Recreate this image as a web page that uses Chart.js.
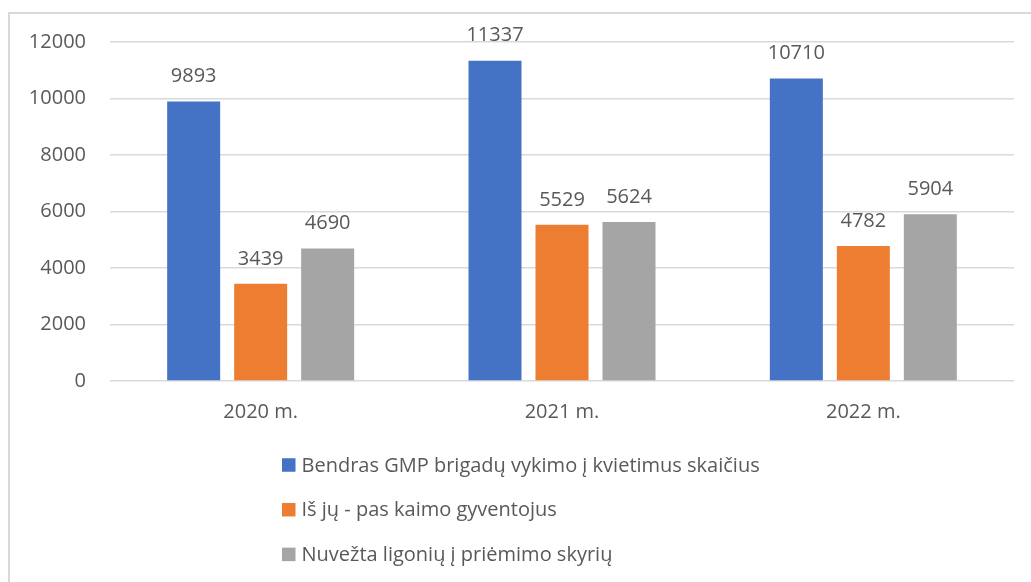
<!DOCTYPE html>
<html>
<head>
<meta charset="utf-8">
<script src="https://cdn.jsdelivr.net/npm/chart.js@4"></script>
<style>
  html, body { margin: 0; padding: 0; background: #ffffff; }
  #wrap { position: relative; width: 1031px; height: 582px; overflow: hidden; }
  #frame { position: absolute; left: 8px; top: 12px; width: 1100px; height: 700px;
           border-left: 2px solid #d9d9d9; border-top: 2px solid #d9d9d9; }
  canvas { position: absolute; left: 0; top: 0; }
</style>
</head>
<body>
<div id="wrap">
  <div id="frame"></div>
  <canvas id="c" width="1031" height="582"></canvas>
</div>
<script>
const categories = ["2020 m.", "2021 m.", "2022 m."];
const seriesNames = [
  "Bendras GMP brigadų vykimo į kvietimus skaičius",
  "Iš jų - pas kaimo gyventojus",
  "Nuvežta ligonių į priėmimo skyrių"
];
const totalCalls = [9893, 11337, 10710];
const ruralCalls = [3439, 5529, 4782];
const transported = [4690, 5624, 5904];
const yTicks = [0, 2000, 4000, 6000, 8000, 10000, 12000];
const seriesColors = ["#4472C4", "#ED7D31", "#A5A5A5"];

const FONT = "'Open Sans', 'DejaVu Sans', sans-serif";
const TEXT = "#595959";

const valueLabels = {
  id: "valueLabels",
  afterDatasetsDraw(chart) {
    const ctx = chart.ctx;
    ctx.save();
    ctx.font = "20px " + FONT;
    ctx.fillStyle = TEXT;
    ctx.textAlign = "center";
    ctx.textBaseline = "middle";
    chart.data.datasets.forEach((ds, i) => {
      const meta = chart.getDatasetMeta(i);
      meta.data.forEach((bar, j) => {
        ctx.fillText(String(ds.data[j]), bar.x, bar.y - 25);
      });
    });
    ctx.restore();
  }
};

const sideLegend = {
  id: "sideLegend",
  afterDraw(chart) {
    const ctx = chart.ctx;
    const area = chart.chartArea;
    ctx.save();
    ctx.font = "20px " + FONT;
    ctx.textAlign = "left";
    ctx.textBaseline = "middle";
    chart.data.datasets.forEach((ds, i) => {
      const cy = area.bottom + 84 + i * 44.7;
      ctx.fillStyle = ds.backgroundColor;
      ctx.fillRect(282, cy - 6.75, 13.5, 13.5);
      ctx.fillStyle = TEXT;
      ctx.fillText(ds.label, 301.5, cy + 1);
    });
    ctx.restore();
  }
};

new Chart(document.getElementById("c"), {
  type: "bar",
  data: {
    labels: categories,
    datasets: [
      { label: seriesNames[0], data: totalCalls, backgroundColor: seriesColors[0] },
      { label: seriesNames[1], data: ruralCalls, backgroundColor: seriesColors[1] },
      { label: seriesNames[2], data: transported, backgroundColor: seriesColors[2] }
    ]
  },
  options: {
    responsive: false,
    animation: false,
    devicePixelRatio: 1,
    datasets: { bar: { categoryPercentage: 0.667, barPercentage: 0.791 } },
    layout: { padding: { left: 28, right: 17, top: 42, bottom: 139 } },
    plugins: {
      legend: { display: false },
      tooltip: { enabled: false }
    },
    scales: {
      x: {
        grid: { display: false, drawTicks: false },
        border: { display: false },
        ticks: { color: TEXT, font: { family: FONT, size: 20 }, padding: 19 }
      },
      y: {
        min: 0,
        max: 12000,
        afterFit(scale) { scale.width = 82; },
        afterBuildTicks(scale) { scale.ticks = yTicks.map(v => ({ value: v })); },
        grid: { color: "#d9d9d9", lineWidth: 1.5, drawTicks: false },
        border: { display: false },
        ticks: {
          color: TEXT, font: { family: FONT, size: 20 }, padding: 24,
          callback: (v) => String(v)
        }
      }
    }
  },
  plugins: [valueLabels, sideLegend]
});
</script>
</body>
</html>
